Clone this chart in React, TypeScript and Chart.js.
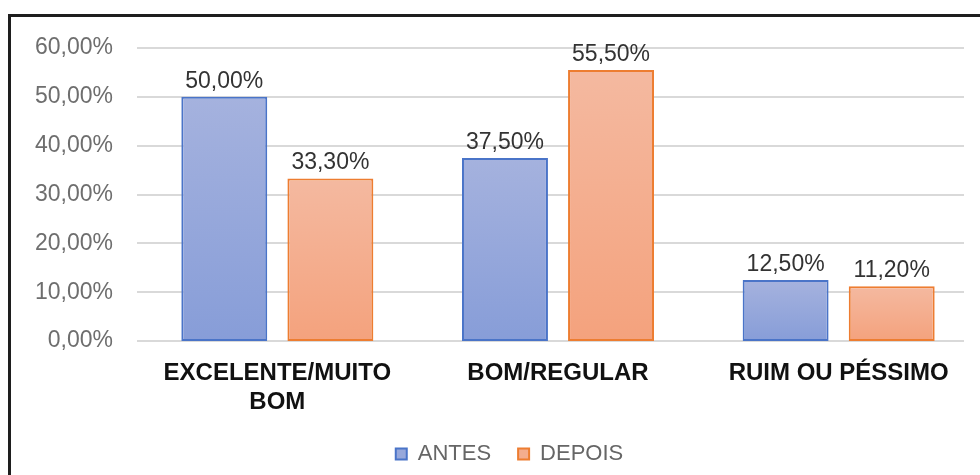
import React, { useEffect, useRef } from "react";
import { Chart, registerables } from "chart.js";

Chart.register(...registerables);

const categories: string[][] = [["EXCELENTE/MUITO", "BOM"], ["BOM/REGULAR"], ["RUIM OU PÉSSIMO"]];
const antes: number[] = [50.0, 37.5, 12.5];
const depois: number[] = [33.3, 55.5, 11.2];
const seriesNames: string[] = ["ANTES", "DEPOIS"];
const yTicks: number[] = [0, 10, 20, 30, 40, 50, 60];

const FONT = "'Liberation Sans', Arial, sans-serif";

const fmt = (v: number) => v.toFixed(2).replace(".", ",") + "%";

function gradientFor(top: string, bottom: string) {
  return (ctx: any) => {
    const chart = ctx.chart;
    const area = chart.chartArea;
    const y = chart.scales && chart.scales.y;
    if (!area || !y || ctx.type !== "data") return bottom;
    const v = ctx.raw as number;
    const yTop = y.getPixelForValue(v);
    const yBot = y.getPixelForValue(0);
    if (!isFinite(yTop) || !isFinite(yBot) || yTop === yBot) return bottom;
    const g = chart.ctx.createLinearGradient(0, yTop, 0, yBot);
    g.addColorStop(0, top);
    g.addColorStop(1, bottom);
    return g;
  };
}

const gridPlugin = {
  id: "customGrid",
  afterLayout(chart: any) {
    // shift the legend block slightly right, as in the reference
    if (chart.legend) chart.legend.left += 29;
  },
  beforeDatasetsDraw(chart: any) {
    const { ctx, chartArea, scales } = chart;
    const y = scales.y;
    ctx.save();
    ctx.strokeStyle = "#d9d9d9";
    ctx.lineWidth = 2;
    y.ticks.forEach((t: any) => {
      const py = Math.round(y.getPixelForValue(t.value));
      ctx.beginPath();
      ctx.moveTo(chartArea.left, py);
      ctx.lineTo(chartArea.right - 15, py);
      ctx.stroke();
    });
    ctx.restore();
  },
};

const labelPlugin = {
  id: "valueLabels",
  afterDatasetsDraw(chart: any) {
    const { ctx } = chart;
    ctx.save();
    ctx.font = `23px ${FONT}`;
    ctx.fillStyle = "#333333";
    ctx.textAlign = "center";
    ctx.textBaseline = "alphabetic";
    chart.data.datasets.forEach((ds: any, i: number) => {
      const meta = chart.getDatasetMeta(i);
      meta.data.forEach((bar: any, j: number) => {
        ctx.fillText(fmt(ds.data[j]), bar.x, bar.y - 9);
      });
    });
    ctx.restore();
  },
};

export default function App() {
  const ref = useRef<HTMLCanvasElement | null>(null);

  useEffect(() => {
    if (!ref.current) return;
    const chart = new Chart(ref.current, {
      type: "bar",
      data: {
        labels: categories,
        datasets: [
          {
            label: seriesNames[0],
            data: antes,
            backgroundColor: gradientFor("#a5b2de", "#879dd8"),
            borderColor: "#4a74c8",
            borderWidth: 2,
            borderSkipped: false,
            categoryPercentage: 0.756,
            barPercentage: 0.81,
          },
          {
            label: seriesNames[1],
            data: depois,
            backgroundColor: gradientFor("#f4b9a0", "#f4a27d"),
            borderColor: "#ed7d31",
            borderWidth: 2,
            borderSkipped: false,
            categoryPercentage: 0.756,
            barPercentage: 0.81,
          },
        ],
      },
      options: {
        animation: false,
        responsive: false,
        maintainAspectRatio: false,
        layout: { padding: { top: 31, right: 1, bottom: 0, left: 0 } },
        plugins: {
          legend: {
            position: "bottom",
            labels: {
              font: { family: FONT, size: 22 },
              color: "#666666",
              boxWidth: 11,
              boxHeight: 11,
              padding: 27,
              generateLabels: (chart: any) =>
                chart.data.datasets.map((ds: any, i: number) => ({
                  text: ds.label,
                  fillStyle: i === 0 ? "#97a8db" : "#f4ad8e",
                  strokeStyle: ds.borderColor,
                  lineWidth: 2,
                  fontColor: "#666666",
                  datasetIndex: i,
                  hidden: false,
                })),
            },
          },
          tooltip: { enabled: false },
        },
        scales: {
          x: {
            grid: { display: false },
            border: { display: false },
            ticks: {
              font: { family: FONT, size: 24, weight: "bold", lineHeight: 1.2 },
              color: "#111111",
              padding: 10,
              maxRotation: 0,
              autoSkip: false,
            },
            afterFit: (scale: any) => {
              scale.height = 75;
            },
          },
          y: {
            min: 0,
            max: 60,
            grid: { display: false, drawTicks: false },
            border: { display: false },
            afterBuildTicks: (scale: any) => {
              scale.ticks = yTicks.map((v) => ({ value: v }));
            },
            ticks: {
              font: { family: FONT, size: 23 },
              color: "#6e6e6e",
              padding: 24,
              callback: (v: any) => fmt(Number(v)),
            },
            afterFit: (scale: any) => {
              scale.width = 126;
              scale.paddingTop = 0;
              scale.paddingBottom = 0;
            },
          },
        },
      },
      plugins: [gridPlugin, labelPlugin],
    } as any);
    return () => chart.destroy();
  }, []);

  return (
    <div
      style={{
        position: "absolute",
        left: 8,
        top: 14,
        width: 972,
        height: 461,
        borderTop: "3px solid #1e1e1e",
        borderLeft: "3px solid #1e1e1e",
        boxSizing: "border-box",
        background: "#fff",
        overflow: "hidden",
      }}
    >
      <canvas ref={ref} width={969} height={458} style={{ display: "block" }} />
    </div>
  );
}
